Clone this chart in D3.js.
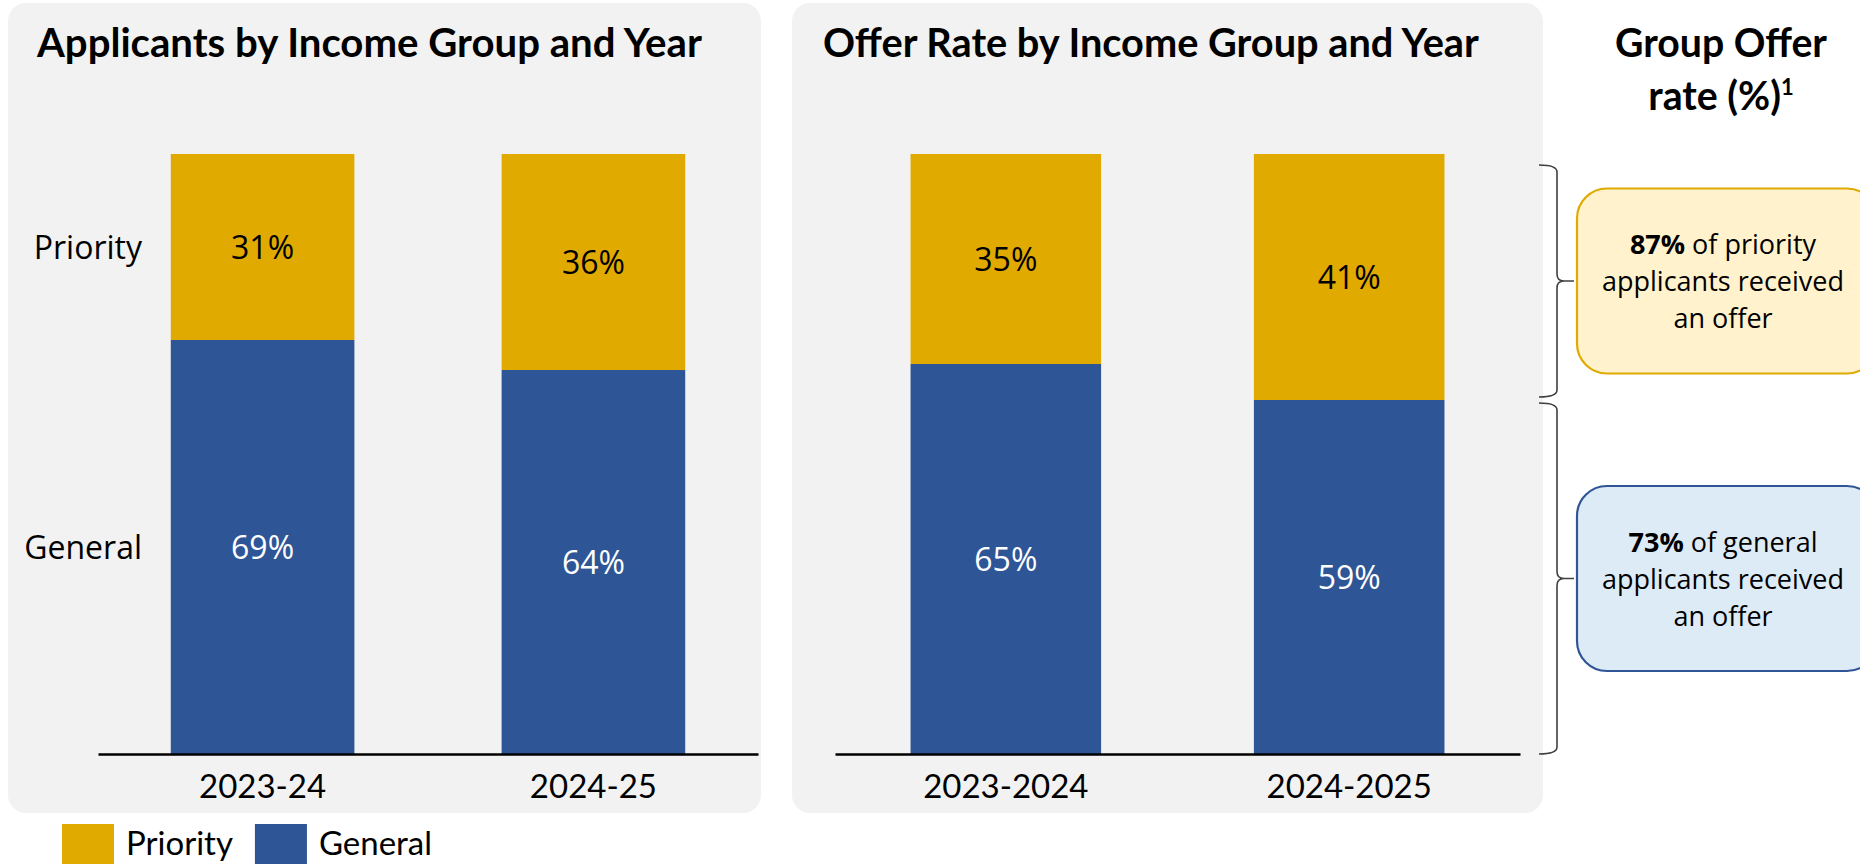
<!DOCTYPE html>
<html>
<head>
<meta charset="utf-8">
<script src="https://cdn.jsdelivr.net/npm/d3@7"></script>
<style>
  html, body { margin: 0; padding: 0; background: #ffffff; overflow: hidden; }
  svg { display: block; }
</style>
</head>
<body>
<svg id="chart" width="1860" height="864"></svg>
<script>
// ---------------- data ----------------
const applicantYears = ["2023-24", "2024-25"];
const applicantPriority = [31, 36];
const applicantGeneral = [69, 64];

const offerYears = ["2023-2024", "2024-2025"];
const offerPriority = [35, 41];
const offerGeneral = [65, 59];

const seriesKeys = ["general", "priority"];
const seriesLabels = ["General", "Priority"];
const legendOrder = ["priority", "general"];

const groupNames = ["priority", "general"];
const groupOfferRates = [87, 73];

const titles = ["Applicants by Income Group and Year", "Offer Rate by Income Group and Year"];
const sideTitle = ["Group Offer", "rate (%)"];

// ---------------- styles ----------------
const colors = { priority: "#E0AA00", general: "#2E5596" };
const boxFill = { priority: "#FFF2CC", general: "#DDEBF7" };
const boxStroke = { priority: "#E0AA00", general: "#2F5597" };
const labelColor = { priority: "#000000", general: "#ffffff" };

const svg = d3.select("#chart");

function fitWidth(sel, target) {
  const node = sel.node();
  const fs = parseFloat(sel.attr("font-size"));
  const w = node.getComputedTextLength();
  if (w > 0) sel.attr("font-size", (fs * target / w).toFixed(2));
}

// panels
svg.append("rect").attr("x", 8).attr("y", 3).attr("width", 753).attr("height", 810)
  .attr("rx", 18).attr("fill", "#F2F2F2");
svg.append("rect").attr("x", 792).attr("y", 3).attr("width", 751).attr("height", 810)
  .attr("rx", 18).attr("fill", "#F2F2F2");

// titles
const t1 = svg.append("text").attr("x", 37).attr("y", 57)
  .attr("font-family", "Lato").attr("font-weight", 700).attr("font-size", 36)
  .attr("fill", "#000").text(titles[0]);
fitWidth(t1, 665);
const t2 = svg.append("text").attr("x", 823).attr("y", 57)
  .attr("font-family", "Lato").attr("font-weight", 700).attr("font-size", 36)
  .attr("fill", "#000").text(titles[1]);
fitWidth(t2, 656);

const st1 = svg.append("text").attr("x", 1721).attr("y", 57).attr("text-anchor", "middle")
  .attr("font-family", "Lato").attr("font-weight", 700).attr("font-size", 36)
  .attr("fill", "#000").text(sideTitle[0]);
fitWidth(st1, 212);
const st2 = svg.append("text").attr("x", 1721).attr("y", 110).attr("text-anchor", "middle")
  .attr("font-family", "Lato").attr("font-weight", 700).attr("font-size", st1.attr("font-size"))
  .attr("fill", "#000");
st2.append("tspan").text(sideTitle[1]);
st2.append("tspan").attr("font-size", 22).attr("dy", -15).text("1");

// ---------------- stacked bar charts ----------------
const y = d3.scaleLinear().domain([0, 100]).range([754, 154]);

function drawChart(years, pri, gen, xRange, showYLabels) {
  const rows = years.map((yr, i) => ({ year: yr, priority: pri[i], general: gen[i] }));
  const x = d3.scaleBand().domain(years).range(xRange).paddingInner(0.445).paddingOuter(0.22);
  const stack = d3.stack().keys(seriesKeys)(rows);
  const g = svg.append("g");

  const layers = g.selectAll("g.layer").data(stack).join("g")
    .attr("fill", d => colors[d.key]);
  layers.selectAll("rect").data(d => d).join("rect")
    .attr("x", d => x(d.data.year))
    .attr("width", x.bandwidth())
    .attr("y", d => y(d[1]))
    .attr("height", d => y(d[0]) - y(d[1]));

  // value labels
  stack.forEach(layer => {
    g.selectAll(null).data(layer).join("text")
      .attr("x", d => x(d.data.year) + x.bandwidth() / 2)
      .attr("y", d => (y(d[0]) + y(d[1])) / 2 + 11.5)
      .attr("text-anchor", "middle")
      .attr("font-family", "Open Sans").attr("font-size", 32)
      .attr("fill", labelColor[layer.key])
      .text(d => (d[1] - d[0]) + "%");
  });

  // axis
  const axis = g.append("g").attr("transform", `translate(0,${y(0)})`)
    .call(d3.axisBottom(x).tickSize(0).tickSizeOuter(0));
  axis.select(".domain").attr("stroke", "#000").attr("stroke-width", 2.5);
  axis.selectAll(".tick text")
    .attr("y", 44).attr("dy", 0)
    .attr("font-family", "Lato").attr("font-size", 33).attr("fill", "#000");

  if (showYLabels) {
    const first = years[0];
    stack.forEach((layer, li) => {
      const d = layer.find(v => v.data.year === first);
      g.append("text")
        .attr("x", 142)
        .attr("y", (y(d[0]) + y(d[1])) / 2 + 11.5)
        .attr("text-anchor", "end")
        .attr("font-family", "Open Sans").attr("font-size", 32).attr("fill", "#000")
        .text(seriesLabels[li]);
    });
  }
  return x;
}

drawChart(applicantYears, applicantPriority, applicantGeneral, [98, 758], true);
drawChart(offerYears, offerPriority, offerGeneral, [835, 1520], false);

// ---------------- brackets and callout boxes ----------------
const lastGen = offerGeneral[offerGeneral.length - 1];
const spans = {
  priority: [y(100) + 11, y(lastGen) - 3],
  general: [y(lastGen) + 3, y(0)]
};

function bracePath(top, bottom, x0, x1, x2) {
  const mid = (top + bottom) / 2, r = 7;
  return `M${x0},${top} Q${x1},${top} ${x1},${top + r} L${x1},${mid - r} Q${x1},${mid} ${x1 + r},${mid} L${x2},${mid}` +
         ` M${x1 + r},${mid} Q${x1},${mid} ${x1},${mid + r} L${x1},${bottom - r} Q${x1},${bottom} ${x0},${bottom}`;
}

groupNames.forEach((name, i) => {
  const [top, bottom] = spans[name];
  const mid = (top + bottom) / 2;
  svg.append("path").attr("d", bracePath(top, bottom, 1539, 1557, 1574))
    .attr("fill", "none").attr("stroke", "#404040").attr("stroke-width", 1.6);

  const bh = 185;
  svg.append("rect").attr("x", 1577).attr("y", mid - bh / 2)
    .attr("width", 300).attr("height", bh).attr("rx", 30)
    .attr("fill", boxFill[name]).attr("stroke", boxStroke[name]).attr("stroke-width", 2.2);

  const cx = 1723;
  const l1 = svg.append("text").attr("x", cx).attr("y", mid - 27).attr("text-anchor", "middle")
    .attr("font-family", "Open Sans").attr("font-size", 27).attr("fill", "#000");
  l1.append("tspan").attr("font-weight", 700).text(groupOfferRates[i] + "%");
  l1.append("tspan").text(" of " + name);
  svg.append("text").attr("x", cx).attr("y", mid + 10).attr("text-anchor", "middle")
    .attr("font-family", "Open Sans").attr("font-size", 27).attr("fill", "#000")
    .text("applicants received");
  svg.append("text").attr("x", cx).attr("y", mid + 47).attr("text-anchor", "middle")
    .attr("font-family", "Open Sans").attr("font-size", 27).attr("fill", "#000")
    .text("an offer");
});

// ---------------- legend ----------------
let lx = 62;
legendOrder.forEach(key => {
  const lbl = seriesLabels[seriesKeys.indexOf(key)];
  svg.append("rect").attr("x", lx).attr("y", 824).attr("width", 52).attr("height", 52)
    .attr("fill", colors[key]);
  const t = svg.append("text").attr("x", lx + 64).attr("y", 855)
    .attr("font-family", "Lato").attr("font-size", 33).attr("fill", "#000").text(lbl);
  lx = lx + 64 + t.node().getComputedTextLength() + 22;
});
</script>
</body>
</html>
